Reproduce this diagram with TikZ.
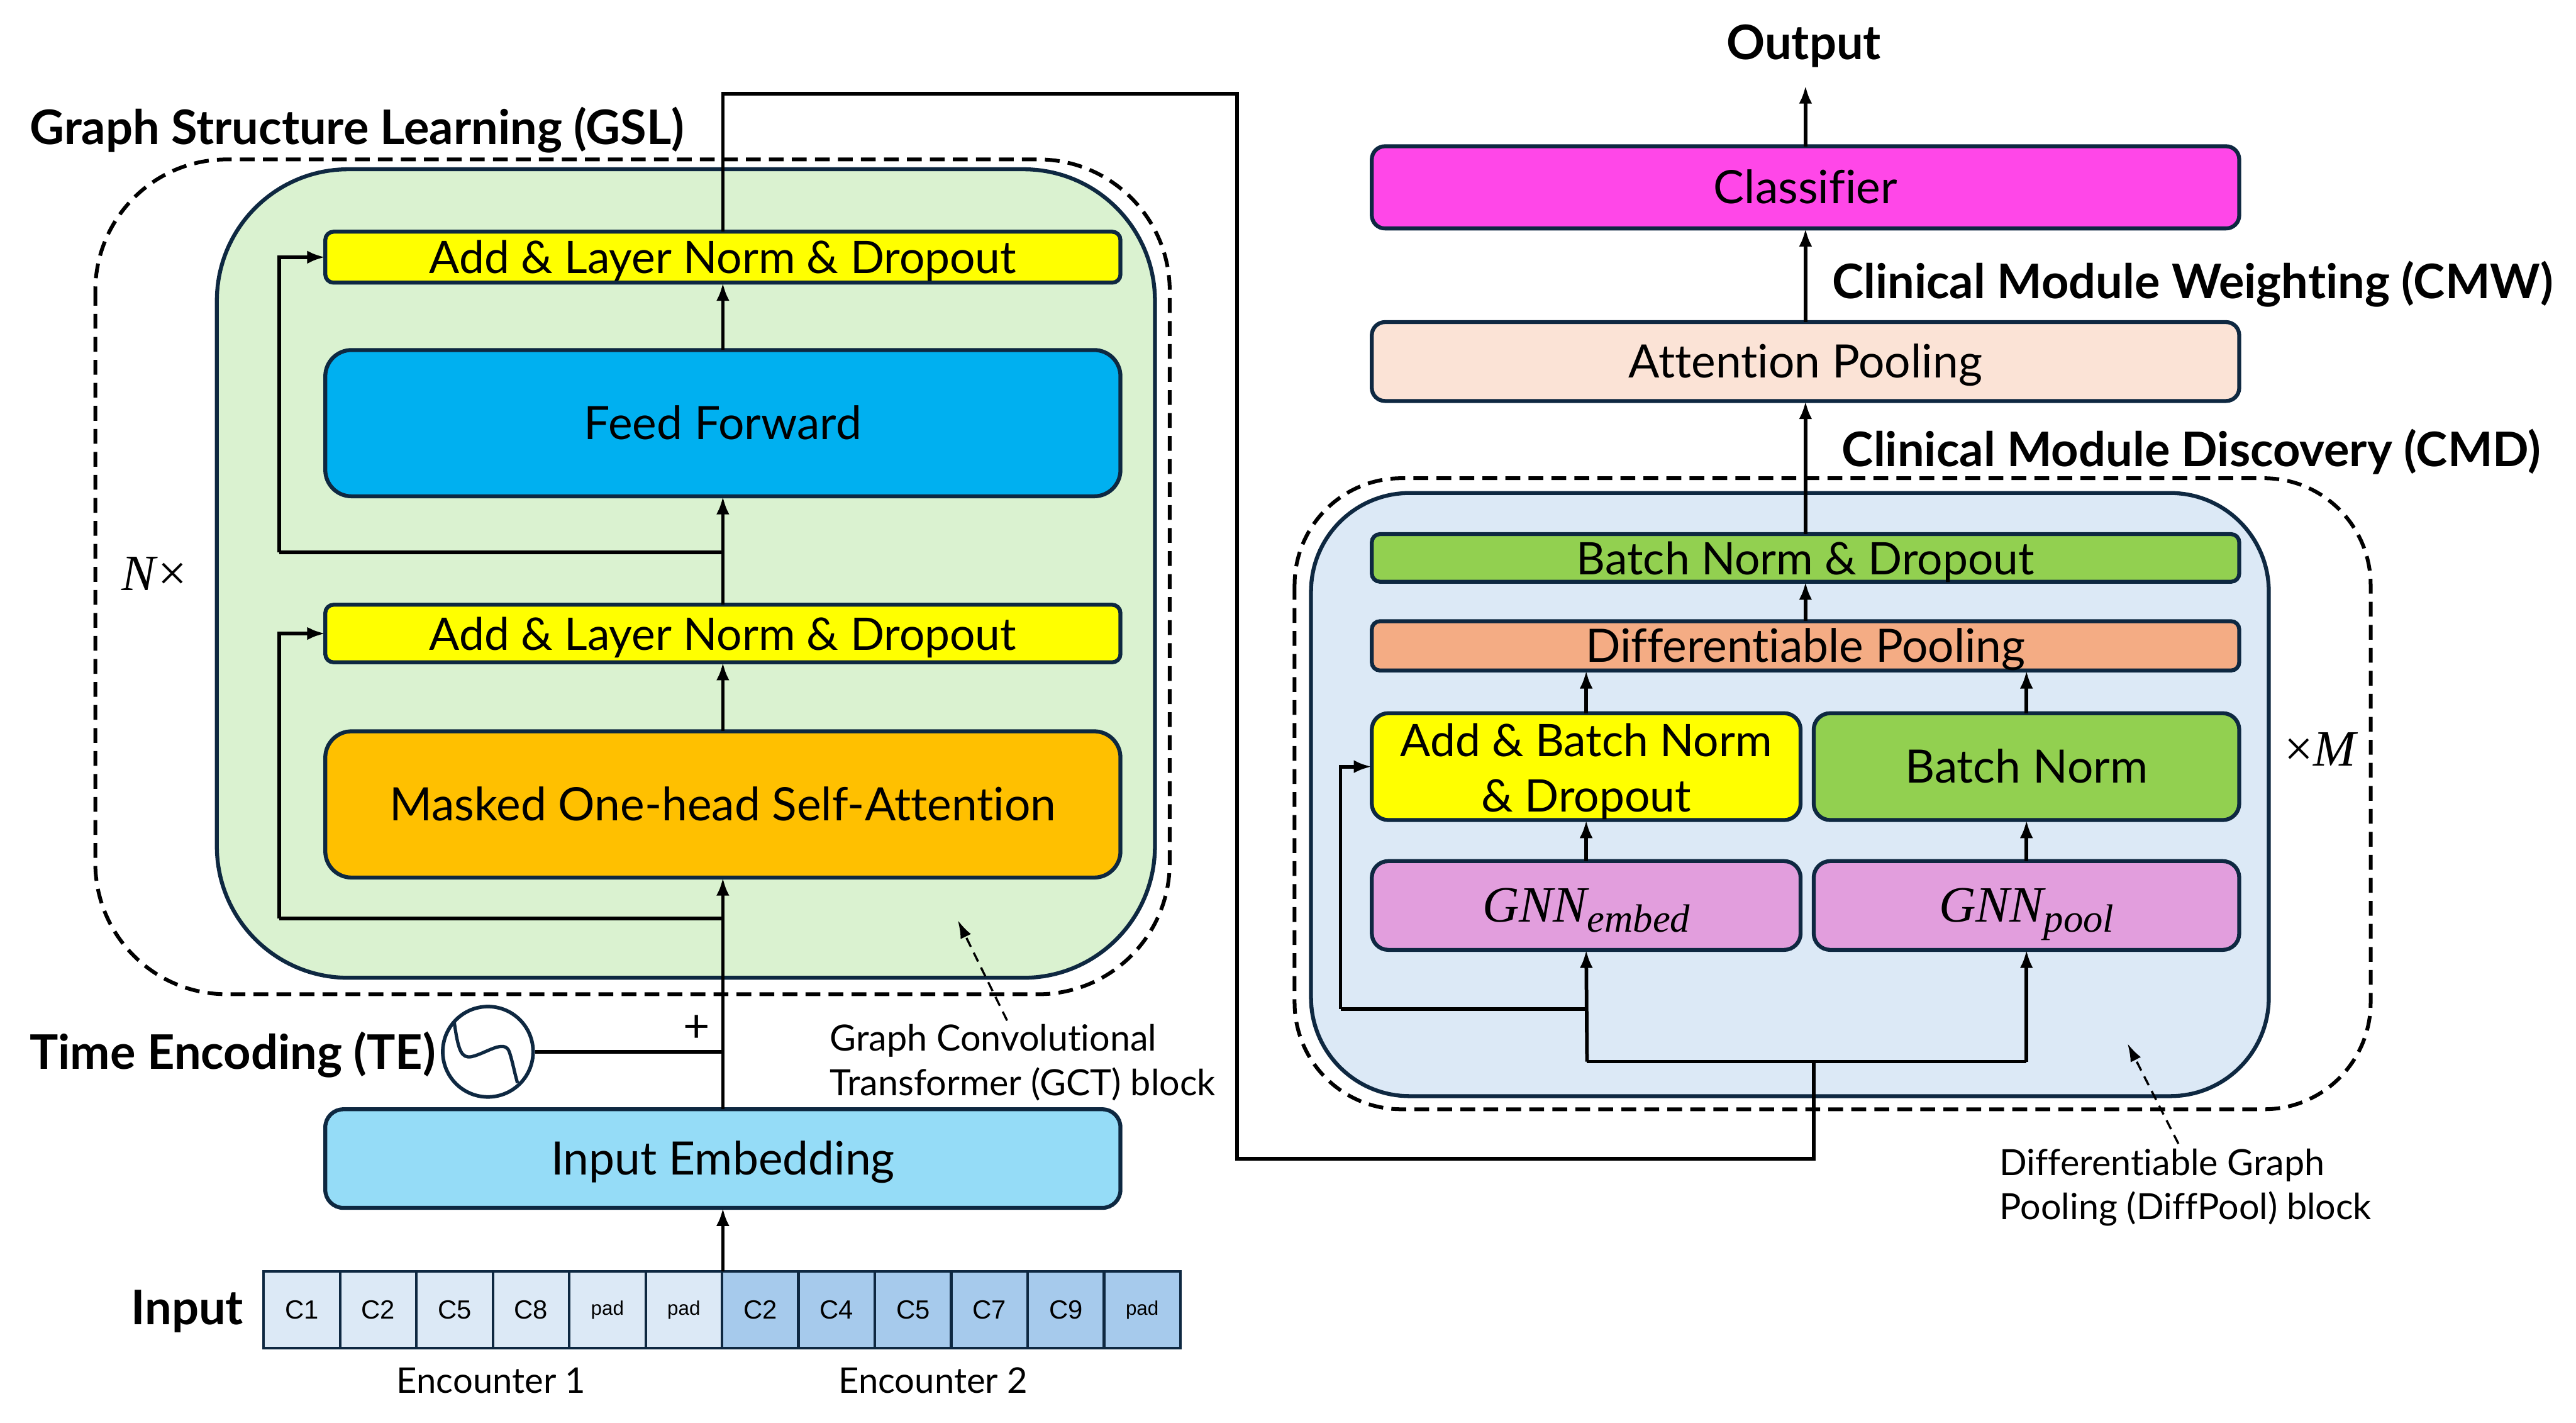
\documentclass[tikz,border=0pt]{standalone}
\usepackage{fontspec}
\usetikzlibrary{arrows.meta}
\setmainfont{Lato}[Ligatures=CommonOff]
\newfontfamily\cellfont{Liberation Sans}
\newfontfamily\mathfont{Liberation Serif}

\definecolor{edgeblue}{HTML}{0E2841}
\definecolor{gslgreen}{HTML}{DAF2D0}
\definecolor{cmdblue}{HTML}{DCE9F6}
\definecolor{normyellow}{HTML}{FFFF00}
\definecolor{ffblue}{HTML}{00B0F0}
\definecolor{attnorange}{HTML}{FFC000}
\definecolor{embedblue}{HTML}{95DCF7}
\definecolor{clsmagenta}{HTML}{FF47E8}
\definecolor{poolpeach}{HTML}{FBE3D6}
\definecolor{bngreen}{HTML}{92D050}
\definecolor{diffsalmon}{HTML}{F4AC84}
\definecolor{gnnpink}{HTML}{E29EDD}
\definecolor{cellone}{HTML}{DCE9F6}
\definecolor{celltwo}{HTML}{A6CAEC}

\newcommand{\gnnlabel}[1]{{\mathfont\itshape\fontsize{31}{34}\selectfont GNN\raisebox{-6pt}{\fontsize{24}{28}\selectfont #1}}}

\tikzset{
  blockbox/.style={draw=edgeblue, line width=2.4pt, inner sep=0pt, outer sep=0pt, align=center, text height=24pt, text depth=4pt, font=\fontsize{28}{34}\selectfont},
  normbox/.style={blockbox, font=\fontsize{27.3}{34}\selectfont},
  cellbox/.style={draw=edgeblue, line width=1.6pt, inner sep=0pt, outer sep=0pt, minimum width=46.5pt, minimum height=47pt, font=\cellfont\fontsize{16}{18}\selectfont},
  titletext/.style={font=\fontsize{29}{34}\bfseries\selectfont, inner sep=0pt},
  notetext/.style={font=\fontsize{22}{27}\selectfont, inner sep=0pt, align=left},
  wire/.style={line width=2.2pt, black},
  flow/.style={wire, -{Latex[length=11pt,width=8pt]}},
  noteflow/.style={line width=1.3pt, dash pattern=on 6pt off 4pt, black, -{Latex[length=11pt,width=7pt]}},
  loopframe/.style={draw=black, line width=2.3pt, dash pattern=on 9pt off 5pt}
}

\begin{document}
\begin{tikzpicture}[x=1pt, y=-1pt]
\useasboundingbox (0,0) rectangle (1568,865.55);

% GSL block
\draw[loopframe, rounded corners=80pt] (58,97) rectangle (712,605);
\draw[edgeblue, line width=2.4pt, fill=gslgreen, rounded corners=80pt] (132,103) rectangle (703,595);

% DiffPool block
\draw[loopframe, rounded corners=65pt] (788,291) rectangle (1443,675);
\draw[edgeblue, line width=2.4pt, fill=cmdblue, rounded corners=60pt] (798,300) rectangle (1381,667);

% Bends
\coordinate (TopLeft) at (440,57);
\coordinate (TopRight) at (753,57);
\coordinate (BottomLeft) at (753,705);
\coordinate (BottomRight) at (1104,705);
\coordinate (Split) at (1104,646);
\coordinate (SplitEmbed) at (966,646);
\coordinate (SplitPool) at (1233.5,646);
\coordinate (TapEmbed) at (966,614);
\coordinate (SkipEmbed) at (816,614);
\coordinate (TapFeed) at (440,336);
\coordinate (SkipFeed) at (170,336);
\coordinate (TapAttn) at (440,559);
\coordinate (SkipAttn) at (170,559);
\coordinate (TimeJoin) at (440,640);
\coordinate (OutputEnd) at (1099,52);

% Wires of the GSL block
\draw[wire] (TapFeed) -- (SkipFeed);
\draw[wire] (TapAttn) -- (SkipAttn);

% Left column
\node[normbox, fill=normyellow, rounded corners=5pt, minimum width=484pt, minimum height=31pt] (AddTop) at (440,156.5) {Add \& Layer Norm \& Dropout};
\node[blockbox, fill=ffblue, rounded corners=16pt, minimum width=484pt, minimum height=89pt] (Feed) at (440,257.5) {Feed Forward};
\node[normbox, fill=normyellow, rounded corners=5pt, minimum width=484pt, minimum height=35pt] (AddLow) at (440,385.5) {Add \& Layer Norm \& Dropout};
\node[blockbox, fill=attnorange, rounded corners=16pt, minimum width=484pt, minimum height=89pt] (Attn) at (440,489.5) {Masked One-head Self-Attention};
\node[blockbox, fill=embedblue, rounded corners=11pt, minimum width=484pt, minimum height=60pt] (Embed) at (440,705) {Input Embedding};

% Time encoding
\node[draw=edgeblue, line width=2.2pt, circle, fill=white, minimum size=55pt, inner sep=0pt] (Time) at (297,640) {};
\draw[wire] (Time) -- (TimeJoin);
\draw[edgeblue, line width=2pt] (276.5,622) .. controls (279,640) and (281,644) .. (287,643) .. controls (296,641) and (307,632) .. (310,640) .. controls (312,646) and (313,652) .. (315,659);
\node[font=\fontsize{28}{32}\selectfont, inner sep=0pt] (Plus) at (424,626) {+};

% Input cells
\foreach \i/\label/\shade in {1/C1/cellone,2/C2/cellone,3/C5/cellone,4/C8/cellone,5/pad/cellone,6/pad/cellone,7/C2/celltwo,8/C4/celltwo,9/C5/celltwo,10/C7/celltwo,11/C9/celltwo,12/pad/celltwo}{
  \node[cellbox, fill=\shade] (Cell\i) at ({160.5+46.5*(\i-0.5)},797) {\ifnum\pdfstrcmp{\label}{pad}=0 \fontsize{12}{14}\selectfont\fi\label};
}
\coordinate (CellJoin) at (440,773.5);

% Right column
\node[blockbox, fill=clsmagenta, rounded corners=8pt, minimum width=528pt, minimum height=50pt] (Classifier) at (1099,114) {Classifier};
\node[blockbox, fill=poolpeach, rounded corners=8pt, minimum width=528pt, minimum height=48pt] (AttnPool) at (1099,220) {Attention Pooling};
\node[normbox, fill=bngreen, rounded corners=5pt, minimum width=528pt, minimum height=29pt] (BnDrop) at (1099,339.5) {Batch Norm \& Dropout};
\node[blockbox, fill=diffsalmon, rounded corners=5pt, minimum width=528pt, minimum height=30pt] (DiffPool) at (1099,393) {Differentiable Pooling};
\node[normbox, fill=normyellow, rounded corners=10pt, minimum width=261pt, minimum height=65pt, text height=, text depth=] (AddBatch) at (965.5,466.5) {\rule{0pt}{26pt}Add \& Batch Norm\\\& Dropout};
\node[blockbox, fill=bngreen, rounded corners=10pt, minimum width=259pt, minimum height=65pt] (BatchNorm) at (1233.5,466.5) {Batch Norm};
\node[blockbox, fill=gnnpink, rounded corners=10pt, minimum width=261pt, minimum height=54pt] (GnnEmbed) at (965.5,551) {\gnnlabel{embed}};
\node[blockbox, fill=gnnpink, rounded corners=10pt, minimum width=259pt, minimum height=54pt] (GnnPool) at (1233.5,551) {\gnnlabel{pool}};

% Flow on the left
\draw[flow] (CellJoin) -- (Embed.south);
\draw[flow] (Embed.north) -- (Attn.south);
\draw[flow] (Attn.north) -- (AddLow.south);
\draw[flow] (AddLow.north) -- (Feed.south);
\draw[flow] (Feed.north) -- (AddTop.south);
\draw[flow] (SkipAttn) |- (AddLow.west);
\draw[flow] (SkipFeed) |- (AddTop.west);

% Link between the blocks
\draw[wire] (AddTop.north) -- (TopLeft) -- (TopRight) -- (BottomLeft) -- (BottomRight) -- (Split);

% Flow on the right
\draw[wire] (SplitEmbed) -- (SplitPool);
\draw[flow] (SplitEmbed) -- (GnnEmbed.south);
\draw[flow] (SplitPool) -- (GnnPool.south);
\draw[wire] (TapEmbed) -- (SkipEmbed);
\draw[flow] (SkipEmbed) |- (AddBatch.west);
\draw[flow] (GnnEmbed.north) -- (AddBatch.south);
\draw[flow] (GnnPool.north) -- (BatchNorm.south);
\draw[flow] (AddBatch.north) -- (AddBatch.north |- DiffPool.south);
\draw[flow] (BatchNorm.north) -- (BatchNorm.north |- DiffPool.south);
\draw[flow] (DiffPool.north) -- (BnDrop.south);
\draw[flow] (BnDrop.north) -- (AttnPool.south);
\draw[flow] (AttnPool.north) -- (Classifier.south);
\draw[flow] (Classifier.north) -- (OutputEnd);

% Titles
\node[titletext, anchor=west] (TitleGsl) at (18,79) {Graph Structure Learning (GSL)};
\node[titletext, anchor=west] (TitleTime) at (18,642) {Time Encoding (TE)};
\node[titletext] (TitleInput) at (114,798) {Input};
\node[titletext] (TitleOutput) at (1098,28) {Output};
\node[titletext, anchor=west] (TitleCmw) at (1115,173) {Clinical Module Weighting (CMW)};
\node[titletext, anchor=west] (TitleCmd) at (1121,275) {Clinical Module Discovery (CMD)};
\node[font=\mathfont\fontsize{31}{34}\selectfont, inner sep=0pt] (TimesN) at (94,349) {\textit{N}×};
\node[font=\mathfont\fontsize{31}{34}\selectfont, inner sep=0pt] (TimesM) at (1413,456) {×\textit{M}};

% Notes
\node[notetext, anchor=west] (NoteGct) at (505,646.5) {Graph Convolutional\\Transformer (GCT) block};
\node[notetext, anchor=west] (NoteDiff) at (1217,722.5) {Differentiable Graph\\Pooling (DiffPool) block};
\node[font=\fontsize{21.5}{24}\selectfont, inner sep=0pt] (EncOne) at (299,840) {Encounter 1};
\node[font=\fontsize{21.5}{24}\selectfont, inner sep=0pt] (EncTwo) at (568,840) {Encounter 2};
\coordinate (NoteGctEnd) at (613,621);
\coordinate (NoteGctTip) at (583,560);
\coordinate (NoteDiffEnd) at (1326,696);
\coordinate (NoteDiffTip) at (1295,635);
\draw[noteflow] (NoteGctEnd) -- (NoteGctTip);
\draw[noteflow] (NoteDiffEnd) -- (NoteDiffTip);

\end{tikzpicture}
\end{document}
